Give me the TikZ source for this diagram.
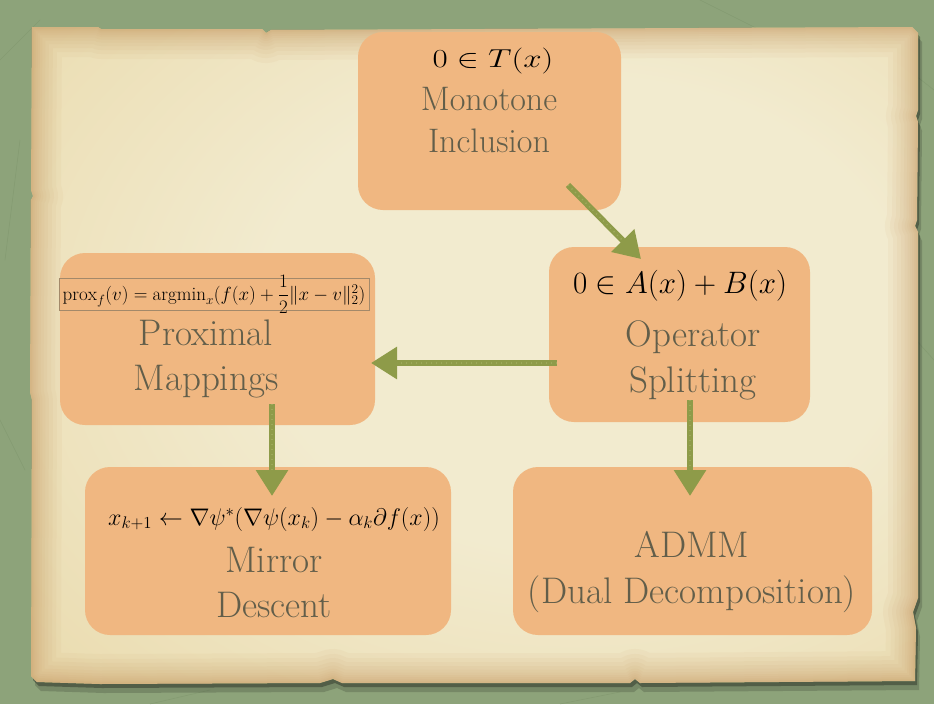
\RequirePackage{fix-cm}
\documentclass[tikz,border=0pt]{standalone}
\usepackage{amsmath}
\usepackage{graphicx}
\usepackage{fontspec}
\usetikzlibrary{arrows.meta}

\definecolor{baize}{HTML}{8DA37A}
\definecolor{baizedark}{HTML}{758C63}
\definecolor{paperlight}{HTML}{F2EBCF}
\definecolor{papermid}{HTML}{EADBAE}
\definecolor{paperedge}{HTML}{DCBD82}
\definecolor{paperburn}{HTML}{C08D52}
\definecolor{boxorange}{HTML}{F0B781}
\definecolor{labelgray}{HTML}{625E4A}
\definecolor{chalk}{HTML}{8E9B49}
\definecolor{chalkhi}{HTML}{B5BE78}
\definecolor{framebrown}{HTML}{A3896A}

\pgfdeclareradialshading{paperglow}{\pgfpoint{8bp}{4bp}}{%
  color(0bp)=(paperlight); color(18bp)=(paperlight); color(40bp)=(papermid);
  color(56bp)=(paperedge); color(80bp)=(paperedge)}

% outline of the torn parchment sheet
\newcommand\paperpath{(32,27) -- (98,27) -- (101,29) -- (262,29) -- (266,33) -- (271,30)
  -- (912,27) -- (918,33) -- (918,110) -- (916,116) -- (918,122) -- (917,220)
  -- (915,226) -- (918,232) -- (918,598) -- (913,612) -- (916,628) -- (915,681)
  -- (640,683) -- (635,679) -- (630,683) -- (342,683) -- (333,679) -- (320,683)
  -- (100,684) -- (37,682) -- (31,676) -- (32,400) -- (30,392) -- (31,200)
  -- (33,196) -- (31,190) -- cycle}

\begin{document}
\begin{tikzpicture}[x=1pt,y=-1pt,
  card/.style={fill=boxorange, draw=none, rounded corners=25pt, inner sep=0pt},
  label/.style={text=labelgray, anchor=base, inner sep=0pt,
    font=\fontsize{37}{42}\selectfont},
  formula/.style={text=black, anchor=base, inner sep=0pt},
  chalkarrow/.style={draw=chalk, line width=6pt, line cap=butt,
    -{Triangle[length=26pt,width=31pt]}},
  chalkgrain/.style={draw=chalkhi, line width=1.6pt, opacity=.4,
    dash pattern=on 1.2pt off 3.8pt, shorten >=26pt}]

% green cloth backdrop
\useasboundingbox (0,0) rectangle (934,704);
\fill[baize] (0,0) rectangle (934,704);
\foreach \a/\b/\c/\d in {0/60/40/20, 20/140/5/260, 700/0/760/30, 870/40/934/90,
  0/420/25/470, 880/300/934/360, 150/704/210/690, 560/704/620/692}
  \draw[baizedark, opacity=.35, line width=.6pt] (\a,\b) -- (\c,\d);

% sheet shadow, sheet and its burnt rim
\begin{scope}[shift={(4,9)}]
  \fill[black, opacity=.16] \paperpath;
\end{scope}
\begin{scope}[shift={(2,4)}]
  \fill[black, opacity=.3] \paperpath;
\end{scope}
\shade[shading=paperglow] \paperpath;
\begin{scope}
  \clip \paperpath;
  \foreach \w in {60,50,42,34,27,21,16,12,8,5,3}
    \draw[paperburn, opacity=.06, line width=\w pt, line join=round] \paperpath;
\end{scope}

% cards
\node[card, minimum width=263pt, minimum height=178pt] (mono)   at (489.5,121) {};
\node[card, minimum width=261pt, minimum height=175pt] (oper)   at (679.5,334.5) {};
\node[card, minimum width=315pt, minimum height=172pt] (prox)   at (217.5,339) {};
\node[card, minimum width=366pt, minimum height=168pt] (mirror) at (268,551) {};
\node[card, minimum width=359pt, minimum height=168pt] (admm)   at (692.5,551) {};

% monotone inclusion
\node[formula] (monoEq) at (493,67)
  {\scalebox{1.27}[1]{\fontsize{26}{30}\selectfont$0\in T(x)$}};
\node[label, font=\fontsize{34}{40}\selectfont] (monoA) at (489,110) {Monotone};
\node[label, font=\fontsize{34}{40}\selectfont] (monoB) at (489,152) {Inclusion};

% operator splitting
\node[formula, font=\fontsize{31}{36}\selectfont] (operEq) at (680,293)
  {$0\in A(x)+B(x)$};
\node[label] (operA) at (693,346) {Operator};
\node[label] (operB) at (693,392) {Splitting};

% proximal mappings
\node[draw=framebrown, line width=.9pt, inner sep=0pt,
  minimum width=310pt, minimum height=32pt] (proxFrame) at (214,294) {};
\node[formula, anchor=center, font=\fontsize{19}{22}\selectfont]
  (proxEq) at (214,294)
  {$\operatorname{prox}_f(v)=\operatorname{argmin}_x(f(x)+\dfrac{1}{2}\|x-v\|_2^2)$};
\node[label] (proxA) at (206,345) {Proximal};
\node[label] (proxB) at (206,390) {Mappings};

% mirror descent
\node[formula, font=\fontsize{24}{28}\selectfont] (mirrorEq) at (274,525)
  {$x_{k+1}\leftarrow\nabla\psi^*(\nabla\psi(x_k)-\alpha_k\partial f(x))$};
\node[label] (mirrorA) at (274,572) {Mirror};
\node[label] (mirrorB) at (274,617) {Descent};

% ADMM
\node[label] (admmA) at (692,557) {ADMM};
\node[label] (admmB) at (692,603) {(Dual Decomposition)};

% chalk arrows
\coordinate (monoOut)   at (568,185);
\coordinate (operIn)    at (641,259);
\coordinate (operLeft)  at (557,363);
\coordinate (proxIn)    at (371,363);
\coordinate (proxOut)   at (272,404);
\coordinate (mirrorIn)  at (272,496);
\coordinate (operDown)  at (690,400);
\coordinate (admmIn)    at (690,496);

\foreach \s/\t in {monoOut/operIn, operLeft/proxIn, proxOut/mirrorIn, operDown/admmIn}{
  \draw[chalkarrow] (\s) -- (\t);
  \draw[chalkgrain] (\s) -- (\t);
}
\end{tikzpicture}
\end{document}
